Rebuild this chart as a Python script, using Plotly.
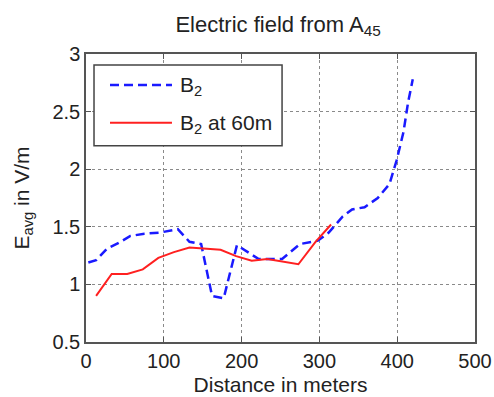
import plotly.graph_objects as go

# Distance along the profile (m) and average field (V/m)
b2_dist = [3, 13, 27, 42, 57, 75, 95, 118, 133, 148, 162, 177, 194, 222, 252,
           275, 298, 312, 330, 342, 358, 375, 390, 399, 408, 414, 420]
b2_field = [1.19, 1.21, 1.31, 1.36, 1.42, 1.44, 1.45, 1.48, 1.37, 1.35, 0.90, 0.88,
            1.34, 1.22, 1.22, 1.35, 1.38, 1.45, 1.59, 1.65, 1.67, 1.75, 1.87, 2.07,
            2.32, 2.58, 2.78]

b2_60_dist = [13, 33, 53, 73, 93, 113, 133, 153, 173, 193, 213, 233, 253, 273, 295, 315]
b2_60_field = [0.90, 1.09, 1.09, 1.13, 1.23, 1.28, 1.32, 1.31, 1.30, 1.245, 1.205,
               1.22, 1.20, 1.175, 1.37, 1.52]

series_names = ["B<sub>2</sub>", "B<sub>2</sub> at 60m"]
series_colors = ["#1a1aff", "#ff2020"]
series_dash = ["9px,5px", "solid"]
series_width = [2.5, 2]

x_ticks = [0, 100, 200, 300, 400, 500]
y_ticks = [0.5, 1, 1.5, 2, 2.5, 3]

FONT = "Liberation Sans, Arial, sans-serif"
TXT = "#222222"

fig = go.Figure()
for xs, ys, name, col, dash, w in zip([b2_dist, b2_60_dist], [b2_field, b2_60_field],
                                      series_names, series_colors, series_dash, series_width):
    fig.add_trace(go.Scatter(x=xs, y=ys, mode="lines", name=name,
                             line=dict(color=col, width=w, dash=dash),
                             showlegend=False))

axis_common = dict(
    showline=True, linecolor="#555555", linewidth=1.5, mirror="ticks",
    ticks="inside", ticklen=5, tickcolor="#555555",
    showgrid=True, gridcolor="#8a8a8a", griddash="dot", gridwidth=1,
    zeroline=False, automargin=False,
    tickfont=dict(family=FONT, size=20, color=TXT),
)

fig.update_xaxes(range=[0, 500], tickvals=x_ticks,
                 title=dict(text="Distance in meters", font=dict(family=FONT, size=21, color=TXT),
                            standoff=7),
                 **axis_common)
fig.update_yaxes(range=[0.5, 3], tickvals=y_ticks, ticktext=[str(v) for v in y_ticks],
                 title=dict(text="E<sub>avg</sub> in V/m", font=dict(family=FONT, size=21, color=TXT),
                            standoff=17),
                 **axis_common)

# Boxed legend in the upper-left corner of the axes
box = dict(x0=0.0206, x1=0.504, y0=0.681, y1=0.962)
fig.add_shape(type="rect", xref="paper", yref="paper", **box,
              line=dict(color="#444444", width=1.5), fillcolor="white", layer="above")
sample_y = [0.892, 0.761]
for name, col, dash, w, yy in zip(series_names, series_colors, series_dash, series_width, sample_y):
    fig.add_shape(type="line", xref="paper", yref="paper", x0=0.0617, x1=0.221, y0=yy, y1=yy,
                  line=dict(color=col, width=w, dash=dash), layer="above")
    fig.add_annotation(xref="paper", yref="paper", x=0.2365, y=yy - 0.004,
                       xanchor="left", yanchor="middle", showarrow=False, text=name,
                       font=dict(family=FONT, size=21, color=TXT))

fig.update_layout(
    width=494, height=397,
    margin=dict(l=86, r=19, t=54, b=55, autoexpand=False),
    paper_bgcolor="white", plot_bgcolor="white",
    title=dict(text="Electric field from A<sub>45</sub>", x=0.563, xanchor="center",
               y=0.94, yanchor="middle", automargin=False,
               font=dict(family=FONT, size=22, color=TXT)),
    showlegend=False,
)

fig.write_html("out.html")
